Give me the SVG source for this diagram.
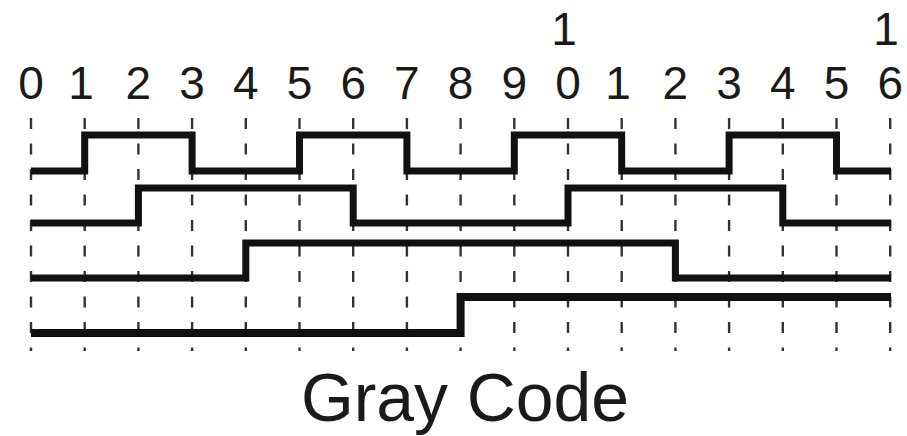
<svg xmlns="http://www.w3.org/2000/svg" width="907" height="436" viewBox="0 0 907 436">
<style>
.grid line{stroke:#333;stroke-width:2.4;stroke-dasharray:11 14.5}
.sig{fill:none;stroke:#111;stroke-width:7;stroke-linejoin:miter;stroke-linecap:butt}
.num{font-family:"Liberation Sans",Arial,sans-serif;font-size:46px;fill:#1a1a1a;text-anchor:middle}
.title{font-family:"Liberation Sans",Arial,sans-serif;font-size:69px;fill:#1a1a1a}
</style>
<rect width="907" height="436" fill="#fff"/>
<g id="grid" class="grid">
<line x1="31" y1="118" x2="31" y2="351"/>
<line x1="84.7" y1="118" x2="84.7" y2="351"/>
<line x1="138.4" y1="118" x2="138.4" y2="351"/>
<line x1="192.1" y1="118" x2="192.1" y2="351"/>
<line x1="245.8" y1="118" x2="245.8" y2="351"/>
<line x1="299.5" y1="118" x2="299.5" y2="351"/>
<line x1="353.2" y1="118" x2="353.2" y2="351"/>
<line x1="406.9" y1="118" x2="406.9" y2="351"/>
<line x1="460.6" y1="118" x2="460.6" y2="351"/>
<line x1="514.3" y1="118" x2="514.3" y2="351"/>
<line x1="568" y1="118" x2="568" y2="351"/>
<line x1="621.7" y1="118" x2="621.7" y2="351"/>
<line x1="675.4" y1="118" x2="675.4" y2="351"/>
<line x1="729.1" y1="118" x2="729.1" y2="351"/>
<line x1="782.8" y1="118" x2="782.8" y2="351"/>
<line x1="836.5" y1="118" x2="836.5" y2="351"/>
<line x1="890.2" y1="118" x2="890.2" y2="351"/>
</g>
<g id="labels" class="num">
<text x="31" y="99">0</text>
<text x="81" y="99">1</text>
<text x="138.4" y="99">2</text>
<text x="192.1" y="99">3</text>
<text x="245.8" y="99">4</text>
<text x="299.5" y="99">5</text>
<text x="353.2" y="99">6</text>
<text x="406.9" y="99">7</text>
<text x="460.6" y="99">8</text>
<text x="514.3" y="99">9</text>
<text x="564" y="45">1</text>
<text x="568" y="99">0</text>
<text x="618" y="99">1</text>
<text x="675.4" y="99">2</text>
<text x="729.1" y="99">3</text>
<text x="782.8" y="99">4</text>
<text x="836.5" y="99">5</text>
<text x="886" y="45">1</text>
<text x="890.2" y="99">6</text>
</g>
<g id="signals">
<path id="bit0" class="sig" d="M31 171H84.7V135H192.1V171H299.5V135H406.9V171H514.3V135H621.7V171H729.1V135H836.5V171H891"/>
<path id="bit1" class="sig" d="M31 223H138.4V188H353.2V223H568V188H782.8V223H891"/>
<path id="bit2" class="sig" d="M31 278H245.8V243H675.4V278H891"/>
<path id="bit3" class="sig" style="stroke-width:8" d="M31 333H460.6V297H891"/>
</g>
<text id="title" class="title" x="301" y="421" textLength="328" lengthAdjust="spacingAndGlyphs">Gray Code</text>
</svg>
